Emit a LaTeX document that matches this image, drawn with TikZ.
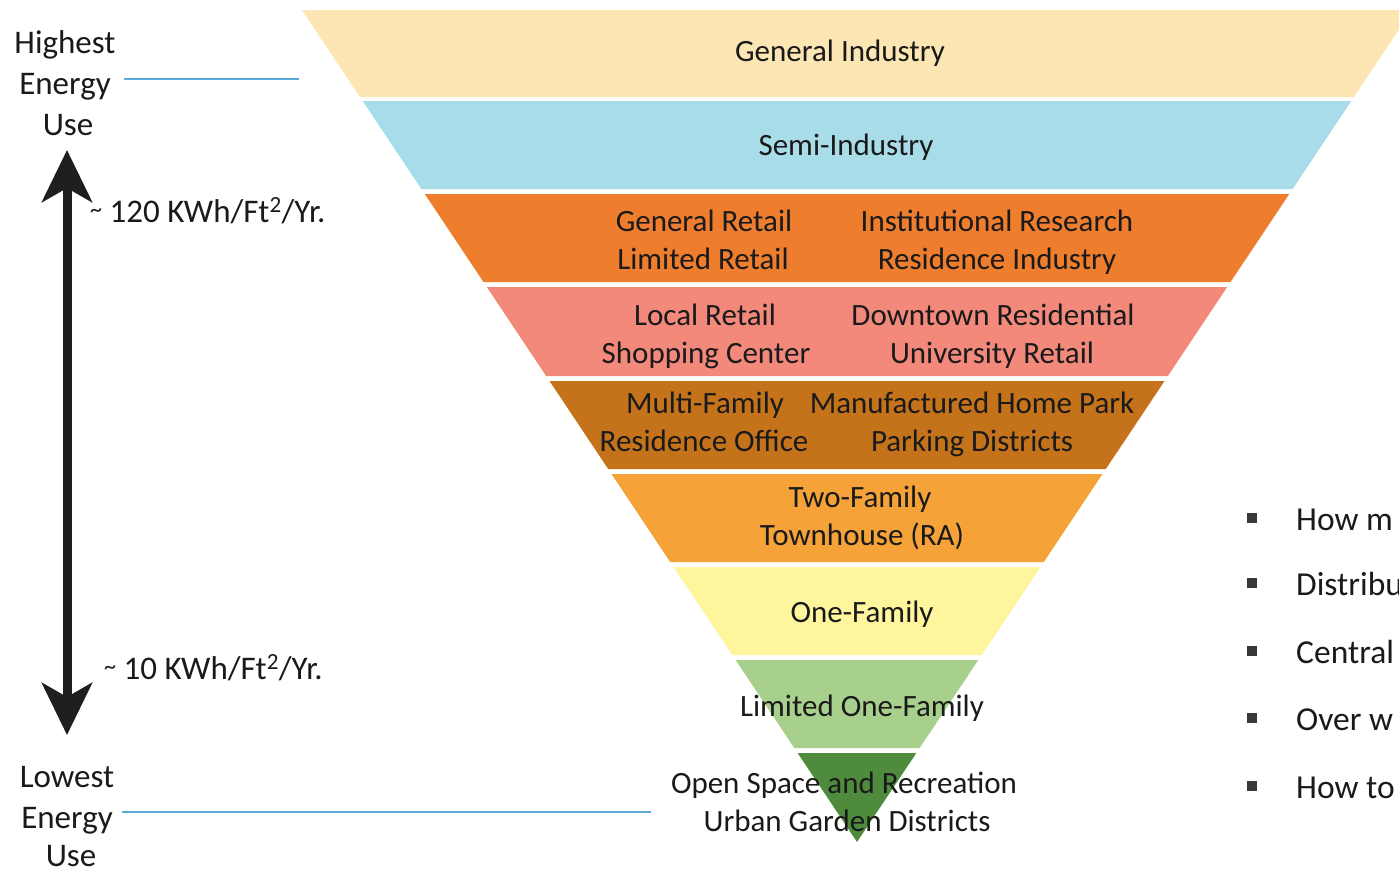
\documentclass[tikz,border=0pt]{standalone}
\usepackage{fontspec}
\setmainfont{Carlito}
\usetikzlibrary{arrows.meta}
\definecolor{cA}{HTML}{FCE6B3}
\definecolor{cB}{HTML}{A8DCE9}
\definecolor{cC}{HTML}{EE7E2E}
\definecolor{cD}{HTML}{F3897B}
\definecolor{cE}{HTML}{C4731A}
\definecolor{cF}{HTML}{F5A238}
\definecolor{cG}{HTML}{FEF59D}
\definecolor{cH}{HTML}{A8D08D}
\definecolor{cI}{HTML}{4E8B3D}
\definecolor{lineblue}{HTML}{5DA9D6}
\definecolor{txt}{HTML}{1A1A1A}
\begin{document}
\begin{tikzpicture}[x=1pt,y=-1pt,
  lbl/.style={font=\fontsize{31}{36}\selectfont, text=txt, inner sep=0pt, anchor=base},
  side/.style={font=\fontsize{33}{40}\selectfont, text=txt, inner sep=0pt, anchor=base},
  bul/.style={font=\fontsize{33.5}{40}\selectfont, text=txt, inner sep=0pt, anchor=base west},
  bulsq/.style={fill=black!78, minimum size=10pt, inner sep=0pt, draw=none},
  guide/.style={draw=lineblue, line width=2pt},
  bigarrow/.style={draw=black!88, line width=9pt,
    {Stealth[length=52pt,width=50pt,inset=14pt]}-{Stealth[length=52pt,width=50pt,inset=14pt]}}]
\useasboundingbox (0,0) rectangle (1399,871);
\clip (0,0) rectangle (1399,871);
\fill[white] (0,0) rectangle (1399,871);

% bands of the inverted pyramid
\foreach \t/\b/\c in {10/97/cA,101/189/cB,194/282/cC,287/376/cD,381/469/cE,474/562/cF,567/655/cG,660/748/cH,753/842/cI}{
  \fill[\c] ({302+0.6671*(\t-10)},\t) -- ({1412-0.6671*(\t-10)},\t)
     -- ({1412-0.6671*(\b-10)},\b) -- ({302+0.6671*(\b-10)},\b) -- cycle;
}

% band labels
\node[lbl] (gi) at (840,61) {General Industry};
\node[lbl] (si) at (846,155) {Semi-Industry};
\node[lbl] (gr) at (704,231) {General Retail};
\node[lbl] (lr) at (703,269) {Limited Retail};
\node[lbl] (ir) at (997,231) {Institutional Research};
\node[lbl] (ri) at (997,269) {Residence Industry};
\node[lbl] (lo) at (705,325) {Local Retail};
\node[lbl] (sc) at (706,363) {Shopping Center};
\node[lbl] (dr) at (993,325) {Downtown Residential};
\node[lbl] (ur) at (992,363) {University Retail};
\node[lbl] (mf) at (705,413) {Multi-Family};
\node[lbl] (ro) at (704,451) {Residence Office};
\node[lbl] (mh) at (972,413) {Manufactured Home Park};
\node[lbl] (pd) at (972,451) {Parking Districts};
\node[lbl] (tf) at (860,507) {Two-Family};
\node[lbl] (th) at (862,545) {Townhouse (RA)};
\node[lbl] (of) at (862,622) {One-Family};
\node[lbl] (lf) at (862,716) {Limited One-Family};
\node[lbl] (os) at (844,793) {Open Space and Recreation};
\node[lbl] (ug) at (847,831) {Urban Garden Districts};

% left side labels
\node[side] (h1) at (65,53) {Highest};
\node[side] (h2) at (65,94) {Energy};
\node[side] (h3) at (68,135) {Use};
\node[side] (l1) at (67,787) {Lowest};
\node[side] (l2) at (67,828) {Energy};
\node[side] (l3) at (71,866) {Use};

\coordinate (hiend) at (299,79);
\coordinate (loend) at (651,812);
\draw[guide] ([xshift=13pt]h2.east |- hiend) -- (hiend);
\draw[guide] ([xshift=9pt]l2.east |- loend) -- (loend);

% double arrow
\coordinate (atop) at (67,150);
\coordinate (abot) at (67,735);
\draw[bigarrow] (atop) -- (abot);

\node[side, anchor=base west] (k1) at (90,222) {{\fontsize{24}{24}\selectfont\raisebox{5pt}{\textasciitilde}} 120 KWh/Ft\textsuperscript{2}/Yr.};
\node[side, anchor=base west] (k2) at (104,679) {{\fontsize{24}{24}\selectfont\raisebox{5pt}{\textasciitilde}} 10 KWh/Ft\textsuperscript{2}/Yr.};

% bullet list (cut off at the right edge)
\node[bulsq] (s1) at (1252,518) {};
\node[bulsq] (s2) at (1252,583) {};
\node[bulsq] (s3) at (1252,651) {};
\node[bulsq] (s4) at (1252,718) {};
\node[bulsq] (s5) at (1252,786) {};
\node[bul] (b1) at (1296,530) {How m};
\node[bul] (b2) at (1296,595) {Distribu};
\node[bul] (b3) at (1296,663) {Central};
\node[bul] (b4) at (1296,730) {Over w};
\node[bul] (b5) at (1296,798) {How to};
\end{tikzpicture}
\end{document}
